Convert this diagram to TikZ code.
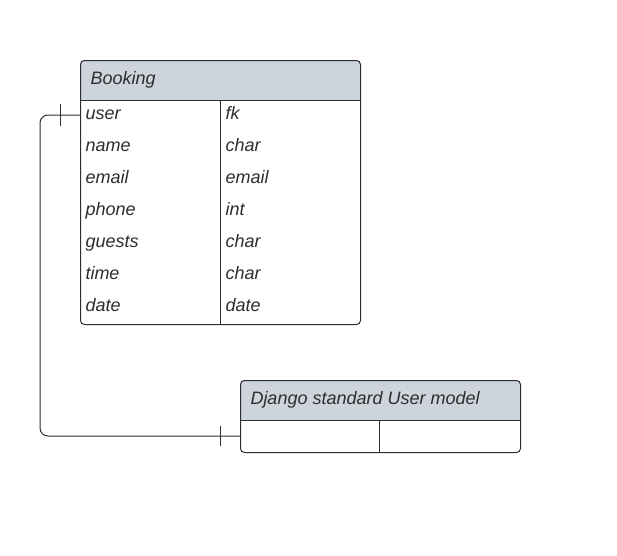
\documentclass[tikz,border=0pt]{standalone}
\usepackage{fontspec}
\setmainfont{Liberation Sans}
\usetikzlibrary{calc}

\definecolor{hdrgray}{RGB}{206,212,219}
\definecolor{linegray}{RGB}{45,45,45}

\begin{document}
\begin{tikzpicture}[x=1pt, y=-1pt, line width=1pt,
    every node/.style={font=\fontsize{18}{21}\selectfont\itshape, text=linegray, inner sep=0pt},
    field/.style={anchor=base west},
    table/.style={draw=linegray, rounded corners=4, minimum width=280, anchor=north west}]
      \useasboundingbox (0,0) rectangle (617,555);
      % Booking table
      \fill[hdrgray] (80,100) [rounded corners=4] -- (80,60) -- (360,60) [sharp corners] -- (360,100) -- cycle;
      \node[table, minimum height=264] (booking) at (80,60) {};
      \draw[linegray] (80,100) -- (360,100);
      \draw[linegray] (220,100) -- (220,324);
      \node[field] (bookingtitle) at (90,84) {Booking};
      \foreach \fname/\fkind [count=\i] in {user/fk, name/char, email/email, phone/int, guests/char, time/char, date/date} {
        \node[field] (field\i) at (85,87+32*\i) {\fname};
        \node[field] (kind\i) at (225,87+32*\i) {\fkind};
      }
      % User table
      \fill[hdrgray] (240,420) [rounded corners=4] -- (240,380) -- (520,380) [sharp corners] -- (520,420) -- cycle;
      \node[table, minimum height=72] (django) at (240,380) {};
      \draw[linegray] (240,420) -- (520,420);
      \draw[linegray] (379,420) -- (379,452);
      \node[field] (djangotitle) at (250,404) {Django standard User model};
      % Relation
      \coordinate (userend) at (80,115);
      \coordinate (djangoend) at (240,436);
      \coordinate (bend) at (40,115);
      \draw[linegray, rounded corners=8] (userend) -- (bend) |- (djangoend);
      \draw[linegray] ($(userend)+(-20,-11)$) -- ++(0,22);
      \draw[linegray] ($(djangoend)+(-20,-10)$) -- ++(0,20);
    \end{tikzpicture}
\end{document}
